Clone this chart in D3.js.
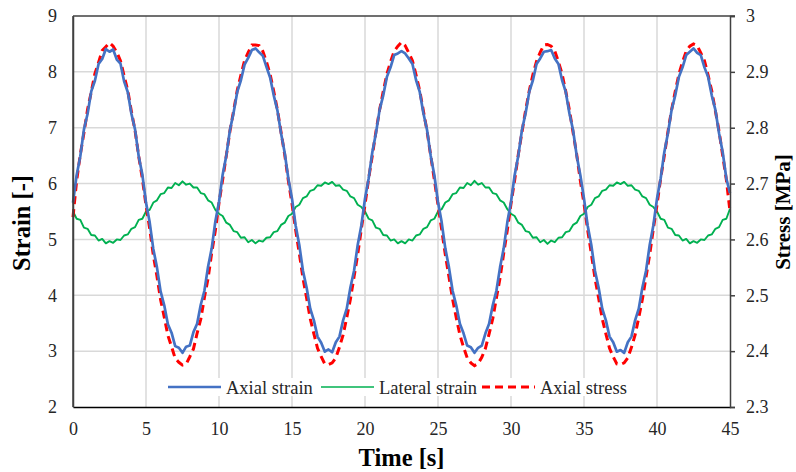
<!DOCTYPE html>
<html>
<head>
<meta charset="utf-8">
<script src="https://cdn.jsdelivr.net/npm/d3@7/dist/d3.min.js"></script>
<style>
  body { margin: 0; background: #fff; }
  svg text { font-family: "Liberation Serif", "Times New Roman", serif; fill: #262626; }
</style>
</head>
<body>
<div id="chart"></div>
<script>
// time step of the readings [s]
var timeStep = 0.25;

// axial strain [-], every 0.25 s
var axialStrain = [
  5.66, 6.15, 6.49, 6.97, 7.25, 7.65, 7.84, 8.14, 8.23, 8.41, 8.36, 8.40, 8.22, 8.15, 7.83, 7.64, 7.25, 6.97, 6.49, 6.16,
  5.66, 5.31, 4.83, 4.50, 4.07, 3.82, 3.48, 3.33, 3.09, 3.06, 2.97, 3.08, 3.10, 3.34, 3.49, 3.83, 4.08, 4.51, 4.84, 5.32,
  5.67, 6.16, 6.50, 6.96, 7.27, 7.64, 7.85, 8.13, 8.25, 8.39, 8.42, 8.35, 8.29, 8.09, 7.90, 7.58, 7.31, 6.90, 6.55, 6.09,
  5.73, 5.25, 4.90, 4.44, 4.14, 3.76, 3.55, 3.26, 3.15, 2.99, 3.03, 2.98, 3.16, 3.26, 3.55, 3.76, 4.14, 4.44, 4.90, 5.25,
  5.73, 6.09, 6.56, 6.90, 7.32, 7.58, 7.91, 8.08, 8.30, 8.33, 8.37, 8.33, 8.24, 8.14, 7.85, 7.64, 7.26, 6.96, 6.50, 6.15,
  5.67, 5.31, 4.84, 4.50, 4.08, 3.82, 3.49, 3.32, 3.10, 3.07, 2.97, 3.06, 3.10, 3.32, 3.49, 3.82, 4.08, 4.50, 4.84, 5.31,
  5.67, 6.15, 6.50, 6.96, 7.26, 7.64, 7.85, 8.14, 8.24, 8.36, 8.37, 8.39, 8.24, 8.14, 7.85, 7.64, 7.26, 6.96, 6.50, 6.15,
  5.73, 5.25, 4.90, 4.44, 4.14, 3.76, 3.55, 3.26, 3.16, 2.99, 3.02, 2.97, 3.16, 3.26, 3.55, 3.76, 4.14, 4.44, 4.90, 5.25,
  5.73, 6.09, 6.56, 6.90, 7.32, 7.58, 7.91, 8.08, 8.30, 8.36, 8.42, 8.34, 8.30, 8.08, 7.91, 7.58, 7.32, 6.90, 6.56, 6.09,
  5.83
];

// lateral strain [-]
var lateralStrain = [
  5.50, 5.37, 5.35, 5.21, 5.19, 5.08, 5.07, 4.98, 5.01, 4.93, 4.97, 4.94, 5.00, 4.99, 5.07, 5.09, 5.19, 5.22, 5.35, 5.37,
  5.50, 5.53, 5.66, 5.70, 5.81, 5.83, 5.93, 5.92, 6.01, 5.97, 6.04, 5.98, 6.00, 5.93, 5.93, 5.83, 5.81, 5.70, 5.66, 5.53,
  5.46, 5.42, 5.30, 5.26, 5.15, 5.13, 5.03, 5.04, 4.95, 4.99, 4.93, 4.98, 4.96, 5.03, 5.04, 5.13, 5.15, 5.26, 5.30, 5.42,
  5.46, 5.58, 5.62, 5.74, 5.77, 5.87, 5.89, 5.97, 5.96, 6.02, 5.99, 6.03, 5.96, 5.97, 5.89, 5.87, 5.77, 5.74, 5.62, 5.58,
  5.50, 5.37, 5.34, 5.21, 5.19, 5.08, 5.07, 4.98, 5.00, 4.93, 4.97, 4.93, 5.00, 4.98, 5.07, 5.09, 5.19, 5.22, 5.34, 5.37,
  5.50, 5.54, 5.66, 5.70, 5.81, 5.83, 5.93, 5.92, 6.01, 5.97, 6.05, 5.98, 6.01, 5.93, 5.93, 5.83, 5.81, 5.70, 5.66, 5.54,
  5.46, 5.42, 5.30, 5.26, 5.15, 5.13, 5.03, 5.04, 4.95, 4.99, 4.92, 4.98, 4.95, 5.03, 5.04, 5.13, 5.15, 5.26, 5.30, 5.42,
  5.46, 5.58, 5.62, 5.74, 5.77, 5.87, 5.89, 5.97, 5.96, 6.02, 5.99, 6.03, 5.96, 5.97, 5.89, 5.87, 5.77, 5.74, 5.62, 5.58,
  5.50, 5.37, 5.35, 5.21, 5.19, 5.08, 5.07, 4.98, 5.01, 4.93, 4.97, 4.94, 5.00, 4.99, 5.07, 5.09, 5.19, 5.22, 5.35, 5.37,
  5.55
];

// axial stress [MPa], right axis
var axialStress = [
  2.640, 2.705, 2.752, 2.791, 2.833, 2.864, 2.897, 2.917, 2.938, 2.945, 2.952, 2.946, 2.935, 2.920, 2.893, 2.867, 2.829, 2.795, 2.749, 2.709,
  2.661, 2.620, 2.572, 2.534, 2.492, 2.461, 2.428, 2.408, 2.387, 2.380, 2.375, 2.377, 2.390, 2.404, 2.432, 2.457, 2.496, 2.530, 2.576, 2.616,
  2.665, 2.707, 2.750, 2.794, 2.830, 2.867, 2.894, 2.920, 2.935, 2.948, 2.948, 2.947, 2.937, 2.918, 2.896, 2.865, 2.832, 2.792, 2.752, 2.705,
  2.664, 2.617, 2.575, 2.531, 2.495, 2.458, 2.431, 2.405, 2.390, 2.377, 2.376, 2.379, 2.388, 2.407, 2.429, 2.460, 2.493, 2.533, 2.573, 2.619,
  2.662, 2.709, 2.750, 2.793, 2.832, 2.865, 2.896, 2.918, 2.937, 2.946, 2.953, 2.947, 2.934, 2.920, 2.894, 2.866, 2.830, 2.794, 2.750, 2.707,
  2.662, 2.618, 2.573, 2.533, 2.493, 2.460, 2.429, 2.407, 2.388, 2.379, 2.374, 2.378, 2.389, 2.405, 2.431, 2.458, 2.495, 2.531, 2.575, 2.617,
  2.664, 2.706, 2.752, 2.792, 2.831, 2.866, 2.895, 2.919, 2.935, 2.948, 2.949, 2.946, 2.937, 2.918, 2.896, 2.865, 2.832, 2.792, 2.752, 2.705,
  2.664, 2.617, 2.575, 2.531, 2.495, 2.458, 2.431, 2.405, 2.390, 2.377, 2.376, 2.379, 2.388, 2.407, 2.429, 2.460, 2.493, 2.533, 2.573, 2.619,
  2.662, 2.709, 2.750, 2.793, 2.832, 2.865, 2.896, 2.918, 2.937, 2.946, 2.950, 2.947, 2.934, 2.920, 2.894, 2.866, 2.830, 2.794, 2.750, 2.707,
  2.650
];

var timeTicks = [0, 5, 10, 15, 20, 25, 30, 35, 40, 45];
var strainTicks = [2, 3, 4, 5, 6, 7, 8, 9];
var stressTicks = [2.3, 2.4, 2.5, 2.6, 2.7, 2.8, 2.9, 3];

var seriesNames = ['Axial strain', 'Lateral strain', 'Axial stress'];

var width = 796, height = 472;
var plot = { left: 73, right: 730, top: 16, bottom: 407 };

var x = d3.scaleLinear().domain([0, 45]).range([plot.left, plot.right]);
var yL = d3.scaleLinear().domain([2, 9]).range([plot.bottom, plot.top]);
var yR = d3.scaleLinear().domain([2.3, 3]).range([plot.bottom, plot.top]);

var svg = d3.select('#chart').append('svg')
    .attr('width', width)
    .attr('height', height);

// gridlines
svg.append('g').selectAll('line.vg')
    .data(timeTicks.slice(1, -1))
    .enter().append('line')
    .attr('x1', d => x(d)).attr('x2', d => x(d))
    .attr('y1', plot.top).attr('y2', plot.bottom)
    .attr('stroke', '#d9d9d9').attr('stroke-width', 1.5);

svg.append('g').selectAll('line.hg')
    .data(strainTicks.slice(1, -1))
    .enter().append('line')
    .attr('x1', plot.left).attr('x2', plot.right)
    .attr('y1', d => yL(d)).attr('y2', d => yL(d))
    .attr('stroke', '#d9d9d9').attr('stroke-width', 1.5);

// legend background sits under the curves but over the grid
svg.append('rect')
    .attr('x', 164).attr('y', 378).attr('width', 468).attr('height', 18)
    .attr('fill', '#fff');

// series
var line = function(values, yScale) {
    return d3.line()
        .x((d, i) => x(i * timeStep))
        .y(d => yScale(d))(values);
};

svg.append('path')
    .attr('d', line(lateralStrain, yL))
    .attr('fill', 'none').attr('stroke', '#00b050').attr('stroke-width', 1.9)
    .attr('stroke-linejoin', 'round');

svg.append('path')
    .attr('d', line(axialStress, yR))
    .attr('fill', 'none').attr('stroke', '#ff0000').attr('stroke-width', 3)
    .attr('stroke-dasharray', '8,5');

svg.append('path')
    .attr('d', line(axialStrain, yL))
    .attr('fill', 'none').attr('stroke', '#4472c4').attr('stroke-width', 2.7)
    .attr('stroke-linejoin', 'round');

// frame
svg.append('line')
    .attr('x1', plot.left).attr('x2', plot.right + 5)
    .attr('y1', plot.top).attr('y2', plot.top)
    .attr('stroke', '#404040').attr('stroke-width', 1.5);
svg.append('line')
    .attr('x1', plot.left).attr('x2', plot.left)
    .attr('y1', plot.top).attr('y2', plot.bottom)
    .attr('stroke', '#404040').attr('stroke-width', 1.5);

// axes
var xAxis = svg.append('g')
    .attr('transform', 'translate(0,' + plot.bottom + ')')
    .call(d3.axisBottom(x).tickValues(timeTicks).tickSize(0).tickPadding(15));
var yAxisL = svg.append('g')
    .attr('transform', 'translate(' + plot.left + ',0)')
    .call(d3.axisLeft(yL).tickValues(strainTicks).tickSize(0).tickPadding(16)
        .tickFormat(d3.format('d')));
var yAxisR = svg.append('g')
    .attr('transform', 'translate(' + plot.right + ',0)')
    .call(d3.axisRight(yR).tickValues(stressTicks).tickSize(5).tickPadding(11)
        .tickFormat(d3.format('')));

[xAxis, yAxisL, yAxisR].forEach(function(a) {
    a.selectAll('text').style('font-size', '18px').style('fill', '#262626')
        .style('font-family', '"Liberation Serif", serif');
    a.selectAll('.tick line').attr('stroke', '#404040').attr('stroke-width', 1.5);
});
xAxis.select('.domain').attr('stroke', '#000').attr('stroke-width', 1.5);
yAxisL.select('.domain').attr('stroke', '#404040').attr('stroke-width', 1.5);
yAxisR.select('.domain').attr('stroke', '#404040').attr('stroke-width', 1.5);

// axis titles
svg.append('text')
    .attr('x', (plot.left + plot.right) / 2).attr('y', 466)
    .attr('text-anchor', 'middle')
    .style('font-size', '24.5px').style('font-weight', 'bold').style('fill', '#000')
    .text('Time [s]');

svg.append('text')
    .attr('transform', 'translate(30,223) rotate(-90)')
    .attr('text-anchor', 'middle')
    .style('font-size', '24.5px').style('font-weight', 'bold').style('fill', '#000')
    .text('Strain [-]');

svg.append('text')
    .attr('transform', 'translate(790,212) rotate(-90)')
    .attr('text-anchor', 'middle')
    .style('font-size', '21px').style('font-weight', 'bold').style('fill', '#000')
    .text('Stress [MPa]');

// legend
var legend = svg.append('g');
var legendItems = [
    { name: seriesNames[0], color: '#4472c4', w: 2.4, dash: null, x0: 168 },
    { name: seriesNames[1], color: '#00b050', w: 1.5, dash: null, x0: 321 },
    { name: seriesNames[2], color: '#ff0000', w: 3, dash: '8,5', x0: 482 }
];
legendItems.forEach(function(it) {
    legend.append('line')
        .attr('x1', it.x0).attr('x2', it.x0 + 53)
        .attr('y1', 387).attr('y2', 387)
        .attr('stroke', it.color).attr('stroke-width', it.w)
        .attr('stroke-dasharray', it.dash);
    legend.append('text')
        .attr('x', it.x0 + 58).attr('y', 394)
        .style('font-size', '18.5px')
        .text(it.name);
});
</script>
</body>
</html>
